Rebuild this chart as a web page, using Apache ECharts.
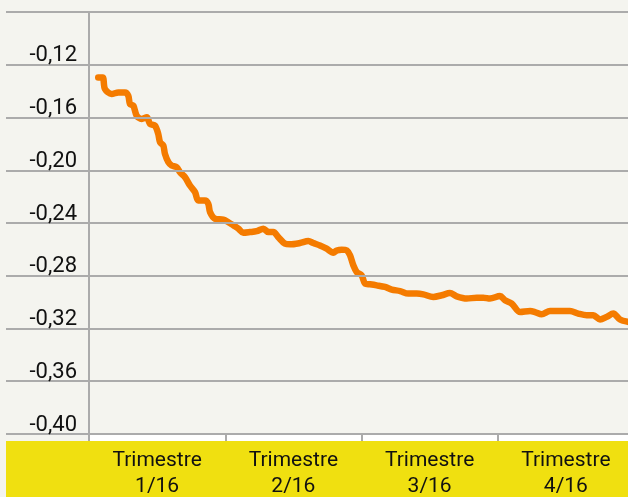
<!DOCTYPE html>
<html>
<head>
<meta charset="utf-8">
<script src="https://cdn.jsdelivr.net/npm/echarts@6/dist/echarts.min.js"></script>
<style>
  html, body { margin: 0; padding: 0; background: #f4f4ef; }
  #main { width: 628px; height: 497px; }
</style>
</head>
<body>
<div id="main"></div>
<script>
const quarters = ['Trimestre\n1/16', 'Trimestre\n2/16', 'Trimestre\n3/16', 'Trimestre\n4/16']

// day of year (2016) and value
const days = [
    6.2, 9.2, 10.7, 15.2, 19.7, 24.2, 26.4, 27.5, 29.8, 32.0,
    35.4, 38.8, 41.0, 44.3, 46.5, 47.7, 49.9, 51.0, 53.3, 55.5,
    58.9, 61.1, 64.5, 67.8, 71.2, 73.4, 77.9, 80.1, 81.3, 84.6,
    90.2, 93.6, 96.9, 100.3, 103.6, 108.1, 112.6, 117.1, 120.4, 123.8,
    127.1, 131.6, 135.0, 141.7, 147.3, 150.6, 155.1, 159.6, 164.1, 166.4,
    169.7, 173.1, 175.3, 177.5, 179.8, 183.1, 185.4, 188.7, 193.2, 198.8,
    203.3, 208.9, 214.4, 220.1, 224.5, 231.2, 236.9, 242.4, 246.9, 253.7,
    260.4, 264.8, 269.3, 276.0, 279.4, 283.9, 289.5, 296.2, 299.5, 304.0,
    309.6, 318.5, 323.0, 328.6, 334.3, 338.7, 343.2, 347.7, 352.1, 356.6,
    362.0
]
const values = [
    -0.1296, -0.1296, -0.1384, -0.1422, -0.1410, -0.1410, -0.1435, -0.1497, -0.1510, -0.1586,
    -0.1611, -0.1599, -0.1649, -0.1662, -0.1724, -0.1788, -0.1813, -0.1876, -0.1939, -0.1964,
    -0.1977, -0.2015, -0.2053, -0.2116, -0.2166, -0.2229, -0.2229, -0.2254, -0.2318, -0.2368,
    -0.2375, -0.2394, -0.2418, -0.2443, -0.2474, -0.2469, -0.2462, -0.2443, -0.2469, -0.2469,
    -0.2507, -0.2557, -0.2562, -0.2552, -0.2537, -0.2552, -0.2570, -0.2595, -0.2625, -0.2608,
    -0.2602, -0.2608, -0.2645, -0.2721, -0.2772, -0.2797, -0.2860, -0.2865, -0.2873, -0.2885,
    -0.2905, -0.2916, -0.2935, -0.2935, -0.2941, -0.2961, -0.2948, -0.2931, -0.2956, -0.2973,
    -0.2966, -0.2966, -0.2973, -0.2954, -0.2986, -0.3011, -0.3075, -0.3067, -0.3075, -0.3092,
    -0.3067, -0.3067, -0.3067, -0.3087, -0.3100, -0.3100, -0.3132, -0.3112, -0.3087, -0.3132,
    -0.3150
]

const yMin = -0.40
const yMax = -0.08
const yStep = 0.04

const gridColor = '#ababab'
const lineColor = '#f47b00'
const bandColor = '#f0e010'
const font = 'Roboto'

let myChart = echarts.init(document.getElementById('main'))

const splitLine = {show: true, lineStyle: {color: gridColor, width: 2}}

let option = {
    backgroundColor: '#f4f4ef',
    animation: false,
    graphic: [
        {type: 'rect', z: -5, shape: {x: 90, y: 435, width: 538, height: 6}, style: {fill: '#ffffff'}},
        {type: 'rect', z: -5, shape: {x: 6, y: 441, width: 622, height: 56}, style: {fill: bandColor}}
    ],
    grid: [
        {left: 89, top: 12, width: 545, height: 422, containLabel: false, outerBoundsMode: 'none'},
        {left: 6, top: 12, width: 83, height: 422, containLabel: false, outerBoundsMode: 'none'}
    ],
    xAxis: [
        {
            type: 'category',
            gridIndex: 0,
            data: quarters,
            boundaryGap: true,
            z: 10,
            axisLine: {show: true, lineStyle: {color: gridColor, width: 2}},
            axisTick: {show: true, length: 7, lineStyle: {color: gridColor, width: 2}},
            axisLabel: {
                color: '#111',
                fontFamily: font,
                fontSize: 21,
                lineHeight: 26,
                margin: 14
            },
            splitLine: {show: false}
        },
        {type: 'value', gridIndex: 0, min: 0, max: 366, show: false},
        {type: 'value', gridIndex: 1, min: 0, max: 1, show: false}
    ],
    yAxis: [
        {
            type: 'value',
            gridIndex: 0,
            min: yMin,
            max: yMax,
            interval: yStep,
            z: 10,
            axisLine: {show: true, lineStyle: {color: gridColor, width: 2}},
            axisTick: {show: false},
            axisLabel: {
                color: '#111',
                fontFamily: font,
                fontSize: 22,
                margin: 12,
                verticalAlign: 'bottom',
                lineHeight: 18,
                showMaxLabel: false,
                formatter: v => v.toFixed(2).replace('.', ',')
            },
            splitLine: splitLine
        },
        {
            type: 'value',
            gridIndex: 1,
            min: yMin,
            max: yMax,
            interval: yStep,
            axisLine: {show: false},
            axisTick: {show: false},
            axisLabel: {show: false},
            splitLine: splitLine
        }
    ],
    series: [
        {
            type: 'line',
            xAxisIndex: 1,
            yAxisIndex: 0,
            data: days.map((d, i) => [d, values[i]]),
            showSymbol: false,
            smooth: 0.3,
            lineStyle: {color: lineColor, width: 6.5, cap: 'round', join: 'round'},
            z: 5
        }
    ]
}

myChart.setOption(option)
</script>
</body>
</html>
